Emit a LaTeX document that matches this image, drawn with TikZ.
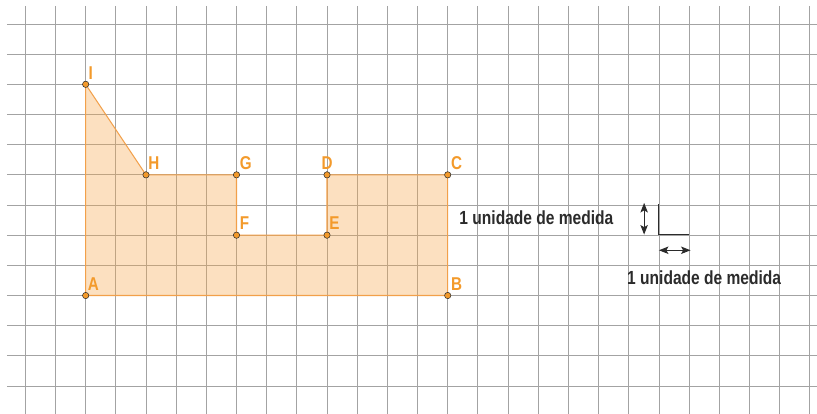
\documentclass[tikz,border=0pt]{standalone}
\usepackage{fontspec}
\setmainfont{Liberation Sans}[FakeStretch=0.82]
\usetikzlibrary{arrows.meta}
\definecolor{gridc}{HTML}{A3A3A3}
\definecolor{edgec}{HTML}{F2A04A}
\definecolor{fillc}{HTML}{F5A64A}
\definecolor{labc}{HTML}{F39A2B}
\definecolor{txtc}{HTML}{2B2B2B}
\begin{document}
\begin{tikzpicture}[x=1cm,y=1cm,
  gridline/.style={draw=gridc, line width=0.75pt},
  figshape/.style={draw=edgec, line width=1pt, fill=fillc, fill opacity=0.35, line join=round},
  dot/.style={fill=labc, draw=txtc, line width=0.5pt},
  lbl/.style={text=labc, font=\bfseries\fontsize{17.5}{20}\selectfont, inner sep=0pt},
  unittxt/.style={text=txtc, font=\bfseries\fontsize{17.9}{21}\selectfont, inner sep=0pt},
  unitline/.style={draw=txtc, line width=0.9pt},
  unitarrow/.style={draw=txtc, line width=0.9pt, {Stealth[length=9pt,width=7pt,inset=2pt]}-{Stealth[length=9pt,width=7pt,inset=2pt]}}
]
\useasboundingbox (-0.839,0.795) rectangle (26.24,-12.894);
% grid
\foreach \i in {0,...,26} \draw[gridline] (\i,0.6) -- (\i,-12.95);
\foreach \j in {0,...,12} \draw[gridline] (-0.61,-\j) -- (26.3,-\j);
% points
\coordinate (A) at (2,-9);
\coordinate (B) at (14,-9);
\coordinate (C) at (14,-5);
\coordinate (D) at (10,-5);
\coordinate (E) at (10,-7);
\coordinate (F) at (7,-7);
\coordinate (G) at (7,-5);
\coordinate (H) at (4,-5);
\coordinate (I) at (2,-2);
\draw[figshape] (A) -- (B) -- (C) -- (D) -- (E) -- (F) -- (G) -- (H) -- (I) -- cycle;
\foreach \p in {A,B,C,D,E,F,G,H,I} \draw[dot] (\p) circle (0.105);
% labels
\node[lbl, anchor=base west, xshift=2pt, yshift=5pt] (lA) at (A) {A};
\node[lbl, anchor=base west, xshift=3pt, yshift=5pt] (lB) at (B) {B};
\node[lbl, anchor=base west, xshift=3pt, yshift=5pt] (lC) at (C) {C};
\node[lbl, anchor=base, yshift=5pt] (lD) at (D) {D};
\node[lbl, anchor=base west, xshift=2pt, yshift=5pt] (lE) at (E) {E};
\node[lbl, anchor=base west, xshift=3pt, yshift=5pt] (lF) at (F) {F};
\node[lbl, anchor=base west, xshift=3pt, yshift=5pt] (lG) at (G) {G};
\node[lbl, anchor=base west, xshift=2pt, yshift=5pt] (lH) at (H) {H};
\node[lbl, anchor=base west, xshift=2.5pt, yshift=5pt] (lI) at (I) {I};
% unit symbol
\coordinate (u1) at (21,-5.97);
\coordinate (u2) at (21,-6.98);
\coordinate (u3) at (22,-6.98);
\draw[unitline] (u1) -- (u2) -- (u3);
\coordinate (v1) at (20.51,-5.93);
\coordinate (v2) at (20.51,-6.98);
\draw[unitarrow] (v1) -- (v2);
\coordinate (h1) at (21,-7.5);
\coordinate (h2) at (22.05,-7.5);
\draw[unitarrow] (h1) -- (h2);
\node[unittxt] (t1) at (16.94,-6.43) {1 unidade de medida};
\node[unittxt] (t2) at (22.50,-8.42) {1 unidade de medida};
\end{tikzpicture}
\end{document}
